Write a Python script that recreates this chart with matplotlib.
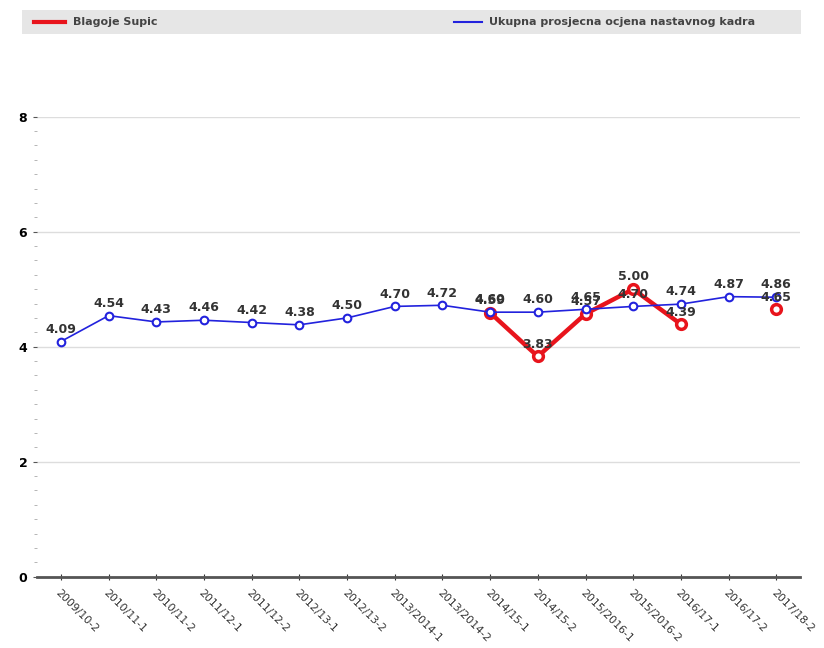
import matplotlib.pyplot as plt
import numpy as np
from matplotlib.ticker import MultipleLocator

# categories (semesters)
semesters = ["2009/10-2", "2010/11-1", "2010/11-2", "2011/12-1", "2011/12-2",
             "2012/13-1", "2012/13-2", "2013/2014-1", "2013/2014-2", "2014/15-1",
             "2014/15-2", "2015/2016-1", "2015/2016-2", "2016/17-1", "2016/17-2",
             "2017/18-2"]

# overall average of teaching staff
ukupna = [4.09, 4.54, 4.43, 4.46, 4.42, 4.38, 4.50, 4.70, 4.72, 4.60,
          4.60, 4.65, 4.70, 4.74, 4.87, 4.86]

# teacher grades (missing semesters as nan)
blagoje = [np.nan, np.nan, np.nan, np.nan, np.nan, np.nan, np.nan, np.nan, np.nan, 4.59,
           3.83, 4.57, 5.00, 4.39, np.nan, 4.65]

fig = plt.figure(figsize=(8.24, 6.48), dpi=100)
ax = fig.add_axes([0.045, 0.11, 0.926, 0.71])

x = np.arange(len(semesters))

ax.plot(x, blagoje, color="#e8141c", lw=3.2, marker="o", ms=7, mfc="white",
        mec="#e8141c", mew=2.5, zorder=3)
ax.plot(x, ukupna, color="#2222dd", lw=1.2, marker="o", ms=5.5, mfc="white",
        mec="#2222dd", mew=1.5, zorder=4)

# value labels
for xi, v in zip(x, ukupna):
    ax.text(xi, v + 0.1, f"{v:.2f}", ha="center", va="bottom", fontsize=9,
            fontweight="bold", color="#333333", zorder=5)
for xi, v in zip(x, blagoje):
    if not np.isnan(v):
        ax.text(xi, v + 0.1, f"{v:.2f}", ha="center", va="bottom", fontsize=9,
                fontweight="bold", color="#333333", zorder=5)

ax.set_xlim(-0.5, 15.5)
ax.set_ylim(0, 8.0)
ax.set_yticks([0, 2, 4, 6, 8])
ax.yaxis.set_minor_locator(MultipleLocator(0.25))
ax.grid(axis="y", color="#dddddd", lw=1)
ax.set_axisbelow(True)

for s in ["top", "right", "left"]:
    ax.spines[s].set_visible(False)
ax.spines["bottom"].set_color("#555555")
ax.spines["bottom"].set_linewidth(2)

ax.tick_params(axis="y", length=3, color="#555555", labelsize=9, pad=4)
ax.tick_params(axis="y", which="minor", length=2, color="#aaaaaa")
ax.tick_params(axis="x", direction="inout", length=5, color="#333333", pad=5)
for lbl in ax.get_yticklabels():
    lbl.set_fontweight("bold")

ax.set_xticks(x)
ax.set_xticklabels(semesters, rotation=-45, ha="left", va="top",
                   rotation_mode="anchor", fontsize=7.8, color="#333333")

# legend bar on top
leg_ax = fig.add_axes([0.027, 0.948, 0.945, 0.037])
leg_ax.set_xlim(0, 1)
leg_ax.set_ylim(0, 1)
leg_ax.set_facecolor("#e6e6e6")
for s in leg_ax.spines.values():
    s.set_visible(False)
leg_ax.set_xticks([])
leg_ax.set_yticks([])
leg_ax.plot([0.015, 0.055], [0.5, 0.5], color="#e8141c", lw=3)
leg_ax.text(0.065, 0.5, "Blagoje Supic", va="center", fontsize=8,
            fontweight="bold", color="#444444")
leg_ax.plot([0.555, 0.59], [0.5, 0.5], color="#2222dd", lw=1.5)
leg_ax.text(0.60, 0.5, "Ukupna prosjecna ocjena nastavnog kadra", va="center",
            fontsize=8, fontweight="bold", color="#444444")

fig.savefig("out.png", dpi=100)
